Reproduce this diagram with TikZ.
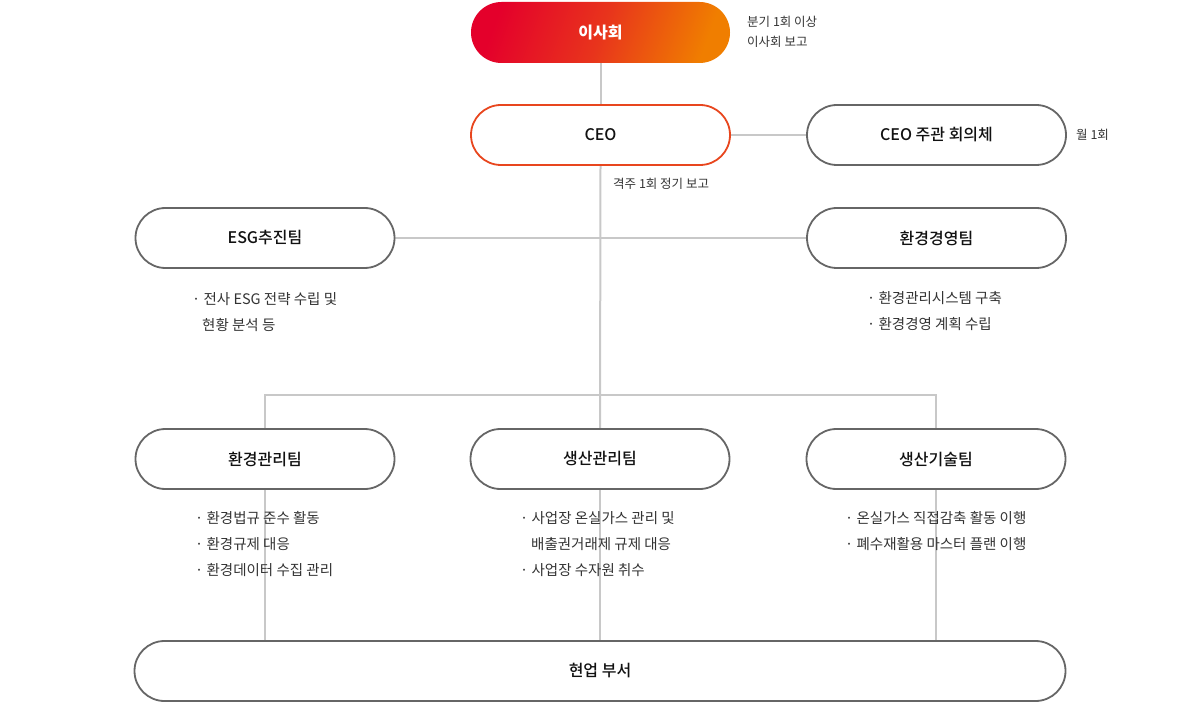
\documentclass[tikz,border=0pt]{standalone}
\usepackage{fontspec}
\setmainfont{Noto Sans CJK KR}
\newfontfamily\medfont{Noto Sans CJK KR Medium}
\usepackage{xcolor}
\usepackage{tikz}
\usetikzlibrary{
  positioning, shapes.misc, calc, backgrounds
}
\definecolor{colRed}     {HTML}{E4002B}
\definecolor{colRedMid}  {HTML}{E8341C}
\definecolor{colOrange}  {HTML}{F07E00}
\definecolor{colCeo}     {HTML}{E8461E}
\definecolor{colBorder}  {HTML}{666666}
\definecolor{colLink}    {HTML}{C8C8C8}
\definecolor{colLabel}   {HTML}{111111}
\definecolor{colText}    {HTML}{333333}
\tikzset{
  pill/.style={
    rounded rectangle, draw=colBorder, fill=white,
    minimum width=259pt, minimum height=60pt,
    inner sep=0pt, outer sep=0pt, line width=1.8pt, text=colLabel,
    font=\fontsize{16}{19}\selectfont\medfont
  },
  boardbox/.style={
    pill, draw=none, text=white, minimum height=61pt,
    left color=colRed, right color=colOrange, middle color=colRedMid,
    shading angle=70, font=\fontsize{16}{19}\selectfont\bfseries
  },
  ceobox/.style ={pill, draw=colCeo},
  teambox/.style={pill},
  fieldbox/.style={pill, minimum width=931pt},
  link/.style={line width=2pt, draw=colLink},
  note/.style={
    anchor=north west, inner sep=0pt, align=left, text=colText,
    font=\fontsize{12.5}{20}\selectfont
  },
  duty/.style={
    anchor=north west, inner sep=0pt, align=left, text=colText,
    font=\fontsize{14.5}{26}\selectfont
  }
}

\begin{document}
\begin{tikzpicture}[x=1pt, y=1pt]
  \useasboundingbox (0,0) rectangle (1202,-703);

  %% -- Top: board, CEO, meeting body --------------------------------
  \node[boardbox] (board) at (600.5,-32.5) {이사회};
  \node[ceobox, below=42pt of board] (ceo) {CEO};
  \node[teambox, right=77pt of ceo] (meet) {CEO 주관 회의체};

  %% -- Row 2: ESG team and environment management team --------------
  \node[teambox, below=43pt of meet] (envmgmt) {환경경영팀};
  \node[teambox, below=43pt of ceo, xshift=-335.5pt] (esg) {ESG추진팀};

  %% -- Row 3: three working teams -----------------------------------
  \node[teambox, below=161pt of esg] (envctrl) {환경관리팀};
  \node[teambox, right=76pt of envctrl] (prodctrl) {생산관리팀};
  \node[teambox, right=77pt of prodctrl] (prodtech) {생산기술팀};

  %% -- Bottom: field departments ------------------------------------
  \node[fieldbox, below=152pt of prodctrl] (field) {현업 부서};

  \coordinate (hub) at ($(ceo.south)+(0,-230pt)$);

  %% -- Connectors (behind the boxes) --------------------------------
  \begin{scope}[on background layer]
    \draw[link] (board.south) -- (ceo.north);
    \draw[link] (ceo.east) -- (meet.west);
    \draw[link] (esg.east) -- (envmgmt.west);
    \draw[link] (ceo.south) -- (prodctrl.north);
    \draw[link] (envctrl.north) |- (hub) -| (prodtech.north);
    \draw[link] (envctrl.south) -- (envctrl.south |- field.north);
    \draw[link] (prodctrl.south) -- (prodctrl.south |- field.north);
    \draw[link] (prodtech.south) -- (prodtech.south |- field.north);
  \end{scope}

  %% -- Notes --------------------------------------------------------
  \node[note] (boardnote) at (747,-16) {분기 1회 이상\\이사회 보고};
  \node[note, anchor=west] (meetnote) at (1076,-135) {월 1회};
  \node[note] (ceonote) at (613,-178) {격주 1회 정기 보고};

  %% -- Duties -------------------------------------------------------
  \node[duty] (esgduty) at (192,-292)
    {· 전사 ESG 전략 수립 및\\\hspace*{10pt}현황 분석 등};
  \node[duty] (envmgmtduty) at (867,-291)
    {· 환경관리시스템 구축\\· 환경경영 계획 수립};
  \node[duty] (envctrlduty) at (195,-511)
    {· 환경법규 준수 활동\\· 환경규제 대응\\· 환경데이터 수집 관리};
  \node[duty] (prodctrlduty) at (520,-511)
    {· 사업장 온실가스 관리 및\\\hspace*{11pt}배출권거래제 규제 대응\\· 사업장 수자원 취수};
  \node[duty] (prodtechduty) at (845,-511)
    {· 온실가스 직접감축 활동 이행\\· 폐수재활용 마스터 플랜 이행};
\end{tikzpicture}
\end{document}
